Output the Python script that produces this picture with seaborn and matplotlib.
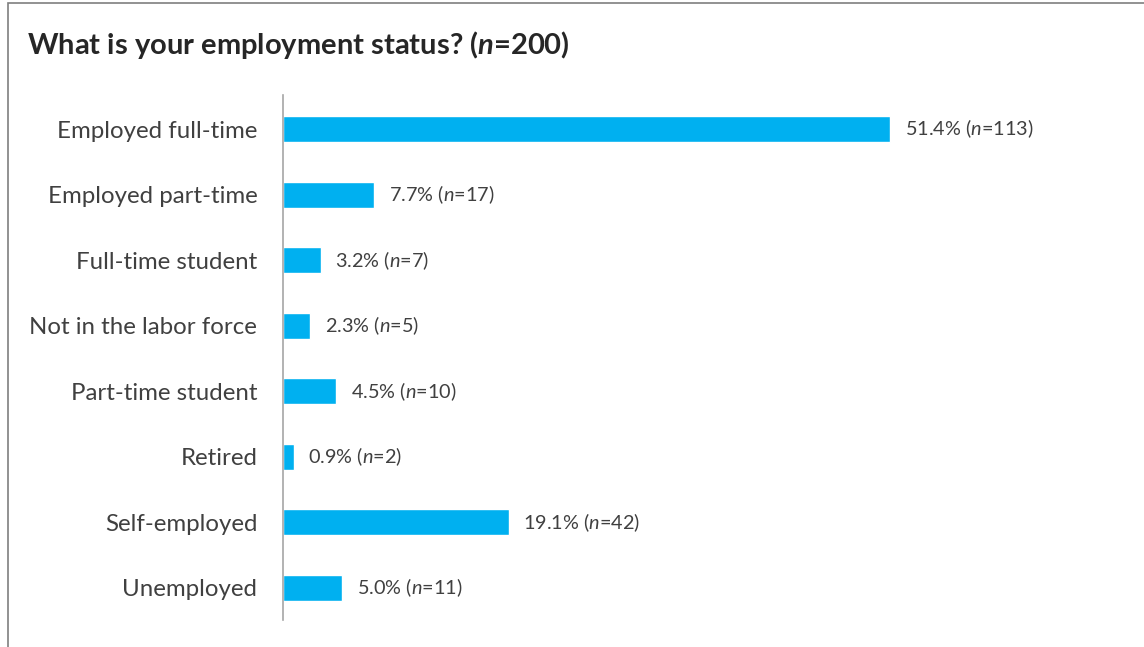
import matplotlib
matplotlib.use("Agg")
import matplotlib.pyplot as plt
import seaborn as sns
import pandas as pd
from matplotlib.patches import Rectangle

categories = [
    "Employed full-time",
    "Employed part-time",
    "Full-time student",
    "Not in the labor force",
    "Part-time student",
    "Retired",
    "Self-employed",
    "Unemployed",
]
percents = [51.4, 7.7, 3.2, 2.3, 4.5, 0.9, 19.1, 5.0]
counts = [113, 17, 7, 5, 10, 2, 42, 11]
title_n = 200

df = pd.DataFrame({"status": categories, "pct": percents, "n": counts})

sns.set_theme(style="white")
plt.rcParams["font.family"] = ["Lato", "DejaVu Sans"]
plt.rcParams["mathtext.fontset"] = "custom"
plt.rcParams["mathtext.rm"] = "Lato"
plt.rcParams["mathtext.it"] = "Lato:italic"
plt.rcParams["mathtext.bf"] = "Lato:bold:italic"

TEXT = "#404040"
BAR = "#00B0F0"

fig = plt.figure(figsize=(11.44, 6.47), dpi=100)
ax = fig.add_axes([283 / 1144, 1 - 620 / 647, 837 / 1144, 525 / 647])

sns.barplot(data=df, y="status", x="pct", orient="h", color=BAR,
            width=0.4, saturation=1, ax=ax, order=categories)

ax.set_xlim(0, 837 / 11.81)
ax.set_ylim(len(categories) - 1 + 0.49, -0.52)
ax.set_xlabel("")
ax.set_ylabel("")
ax.set_xticks([])
for side in ["top", "right", "bottom"]:
    ax.spines[side].set_visible(False)
ax.spines["left"].set_color("#A6A6A6")
ax.spines["left"].set_linewidth(1.2)
ax.tick_params(axis="y", length=0, pad=18.5, labelsize=17.3, labelcolor=TEXT)

labels = [f"{p:.1f}% ($\\it{{n}}$={c})" for p, c in zip(percents, counts)]
ax.bar_label(ax.containers[0], labels=labels, padding=10.5,
             fontsize=14.3, color=TEXT)

fig.text(27 / 1144, 1 - 45 / 647,
         f"What is your employment status? ($\\mathbf{{n}}$={title_n})",
         fontsize=21, fontweight="bold", color="#262626",
         ha="left", va="center")

# chart frame
fig.patches.append(Rectangle((8 / 1144, -0.05), 1.2, 1 - 3 / 647 + 0.05,
                             transform=fig.transFigure, fill=False,
                             edgecolor="#7F7F7F", linewidth=1.2))

fig.savefig("out.png", dpi=100, facecolor="white")
